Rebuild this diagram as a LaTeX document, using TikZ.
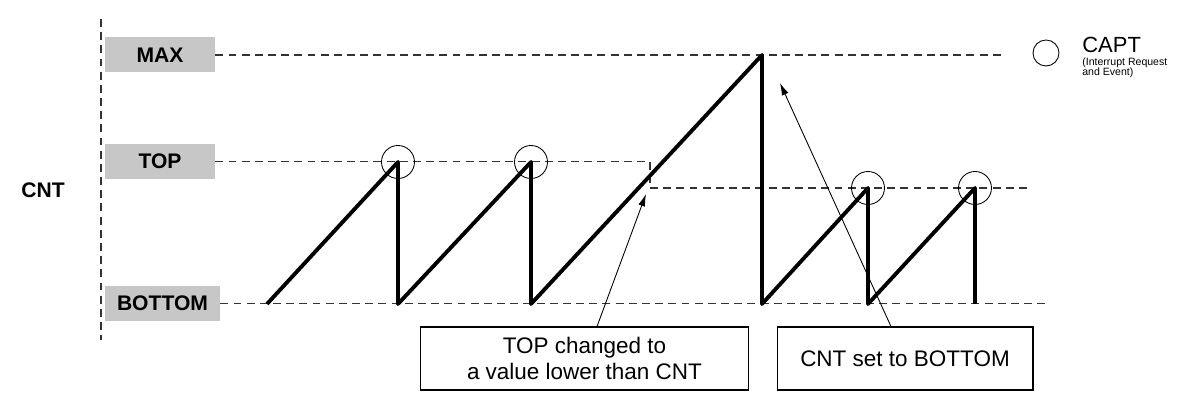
\documentclass[tikz,border=0pt]{standalone}
\usepackage{fontspec}
\setmainfont{Liberation Sans}
\usetikzlibrary{positioning, arrows.meta}

\begin{document}
\begin{tikzpicture}[x=0.02cm, y=-0.02cm,
        level/.style={fill=black!22, minimum height=0.7cm, minimum width=2.2cm, inner sep=0pt, font=\bfseries\fontsize{12}{14}\selectfont},
        guide/.style={dash pattern=on 4.5pt off 3pt, line width=0.7pt, black!80},
        note/.style={draw, line width=0.6pt, minimum height=1.26cm, align=center, font=\fontsize{12.8}{15.3}\selectfont},
        eventmark/.style={draw, circle, minimum size=0.66cm, inner sep=0pt, line width=0.5pt},
        wave/.style={line width=2.2pt, line join=round}]
        \useasboundingbox (0,0) rectangle (1178,411);

        % axis and levels
        \draw[guide] (101,19) -- (101,340);
        \node (cntLbl) [font=\bfseries\fontsize{12}{14}\selectfont] at (43,190) {CNT};
        \node (maxLbl) [level] at (160,55) {MAX};
        \node (topLbl) [level] at (160,161.5) {TOP};
        \node (bottomLbl) [level, minimum width=2.3cm] at (162.5,303.5) {BOTTOM};

        \draw[guide] (maxLbl.east) -- (1002,55);
        \draw[guide] (topLbl.east) -- (650,161.5) -- (650,188) -- (1028,188);
        \draw[guide] (bottomLbl.east) -- (1050,303.5);

        % counter
        \draw[wave] (267,304) -- (398,162) -- (398,304) -- (531,162) -- (531,304)
            -- (762,55) -- (762,304) -- (868,188) -- (868,304) -- (975,188) -- (975,304);

        % capture events
        \foreach \px/\py in {398/162, 531/162, 868/188, 975/188}
            \node[eventmark] at (\px,\py) {};

        % legend
        \node (captMark) [eventmark, minimum size=0.52cm] at (1046,53) {};
        \node (captText) [anchor=base west, inner sep=0pt, font=\fontsize{12.5}{14}\selectfont] at (1082,53) {CAPT};
        \node (captSub) [anchor=north west, inner sep=0pt, align=left, font=\fontsize{6}{5.7}\selectfont] at (1082,58) {(Interrupt Request\\and Event)};

        % notes
        \node (topNote) [note, minimum width=6.58cm] at (584.5,358.5) {TOP changed to\\a value lower than CNT};
        \node (cntNote) [note, minimum width=5.12cm] at (905,358.5) {CNT set to BOTTOM};

        \coordinate (topTip) at (646,194);
        \coordinate (cntTip) at (780,83);
        \draw[line width=0.5pt, -{Latex[length=7pt, width=4pt]}] ([xshift=0.25cm]topNote.north) -- (topTip);
        \draw[line width=0.5pt, -{Latex[length=7pt, width=4pt]}] ([xshift=-0.28cm]cntNote.north) -- (cntTip);
\end{tikzpicture}
\end{document}
